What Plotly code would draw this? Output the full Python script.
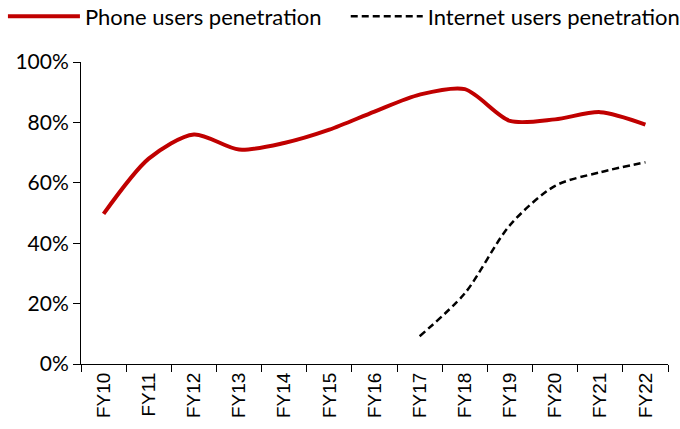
import plotly.graph_objects as go

categories = ["FY10", "FY11", "FY12", "FY13", "FY14", "FY15", "FY16",
              "FY17", "FY18", "FY19", "FY20", "FY21", "FY22"]
phone = [49.7, 68.0, 76.0, 71.0, 73.2, 77.6, 83.6, 89.2, 91.0, 80.5, 81.0, 83.4, 79.3]
internet_cats = ["FY17", "FY18", "FY19", "FY20", "FY21", "FY22"]
internet = [9.2, 23.4, 46.0, 59.0, 63.5, 66.8]

fig = go.Figure()
fig.add_trace(go.Scatter(
    x=categories, y=[v / 100 for v in phone], mode="lines",
    name="Phone users penetration", legend="legend",
    line=dict(color="#C00000", width=4, shape="spline", smoothing=0.8),
))
fig.add_trace(go.Scatter(
    x=internet_cats, y=[v / 100 for v in internet], mode="lines",
    name="Internet users penetration", legend="legend2",
    line=dict(color="#000000", width=2.5, dash="7px,4px", shape="spline", smoothing=0.8),
))

leg_common = dict(orientation="h", xanchor="left", y=1.22, yanchor="top",
                  font=dict(size=22, family="Lato, sans-serif"),
                  itemwidth=72, bgcolor="rgba(0,0,0,0)")

fig.update_layout(
    width=680, height=429,
    margin=dict(l=81, r=12, t=62, b=65, autoexpand=False),
    paper_bgcolor="white", plot_bgcolor="white",
    font=dict(family="Lato, sans-serif", color="black"),
    showlegend=True,
    legend=dict(x=-0.133, **leg_common),
    legend2=dict(x=0.451, **leg_common),
    xaxis=dict(
        type="category", categoryorder="array", categoryarray=categories,
        range=[-0.5, 12.5], showgrid=False, showline=True, linecolor="black",
        linewidth=1, ticks="outside", ticklen=7, tickcolor="black",
        tickson="boundaries", tickangle=-90, automargin=False,
        tickfont=dict(family="Liberation Sans, Arial, sans-serif", size=19),
    ),
    yaxis=dict(
        range=[0, 1], tickvals=[0, 0.2, 0.4, 0.6, 0.8, 1.0], tickformat=".0%",
        showgrid=False, zeroline=False, showline=True, linecolor="black",
        linewidth=1, ticks="outside", ticklen=7, tickcolor="black",
        automargin=False,
        tickfont=dict(family="Lato, sans-serif", size=21),
    ),
)

fig.write_html("out.html")
